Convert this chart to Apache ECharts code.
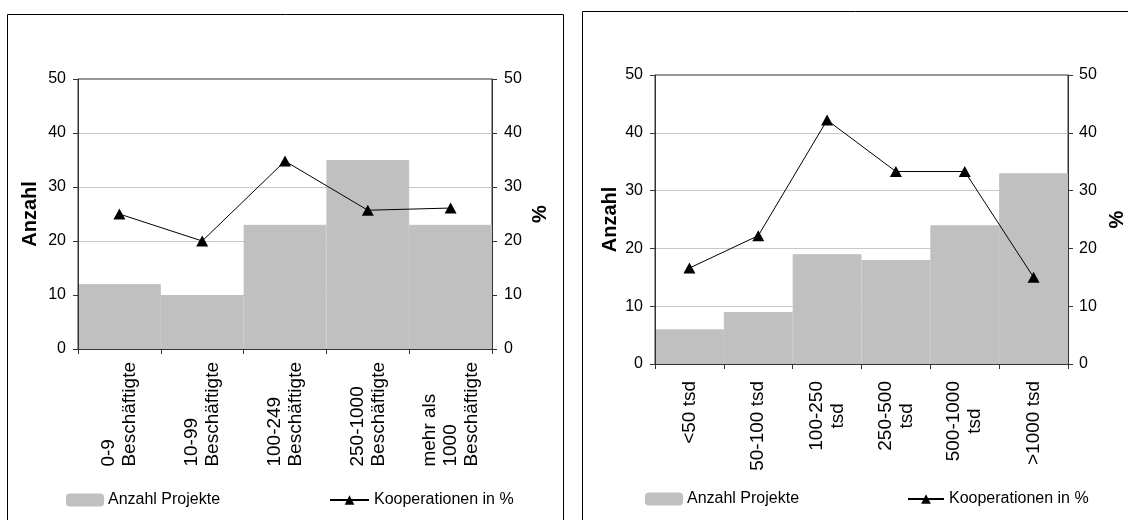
<!DOCTYPE html>
<html>
<head>
<meta charset="utf-8">
<script src="https://cdn.jsdelivr.net/npm/echarts@6.0.0/dist/echarts.min.js"></script>
<style>
html,body{margin:0;padding:0;background:#fff;}
#chart{width:1128px;height:520px;}
</style>
</head>
<body>
<div id="chart"></div>
<script>
// ---- data ----
const catsLeft = ['0-9\nBeschäftigte', '10-99\nBeschäftigte', '100-249\nBeschäftigte', '250-1000\nBeschäftigte', 'mehr als\n1000\nBeschäftigte'];
const barsLeft = [12, 10, 23, 35, 23];
const pctLeft = [25, 20, 34.8, 25.7, 26.1];

const catsRight = ['<50 tsd', '50-100 tsd', '100-250\ntsd', '250-500\ntsd', '500-1000\ntsd', '>1000 tsd'];
const barsRight = [6, 9, 19, 18, 24, 33];
const pctRight = [16.6, 22.2, 42.2, 33.3, 33.3, 15.0];

const yTicks = [0, 10, 20, 30, 40, 50];
const seriesNames = ['Anzahl Projekte', 'Kooperationen in %'];
const axisTitles = ['Anzahl', '%'];

// ---- style ----
const FONT = 'Liberation Sans, Arial, sans-serif';
const AXIS_COLOR = '#333';
const GRID_COLOR = '#c8c8c8';
const BAR_COLOR = '#c0c0c0';

const yMin = yTicks[0], yMax = yTicks[yTicks.length - 1], yInt = yTicks[1] - yTicks[0];

function valueAxis(gridIndex, position, name, nameGap, labelMargin) {
  return {
    type: 'value', gridIndex: gridIndex, position: position,
    min: yMin, max: yMax, interval: yInt, z: 3,
    name: name, nameLocation: 'middle', nameGap: nameGap,
    nameTextStyle: { fontFamily: FONT, fontWeight: 'bold', fontSize: 20, color: '#000' },
    axisLine: { show: true, lineStyle: { color: AXIS_COLOR, width: 1 } },
    axisTick: { show: true, length: 5, lineStyle: { color: AXIS_COLOR } },
    axisLabel: { fontFamily: FONT, fontSize: 16, color: '#000', margin: labelMargin },
    splitLine: { show: false }
  };
}
function splitAxis(gridIndex) {
  return {
    type: 'value', gridIndex: gridIndex, position: 'left',
    min: yMin, max: yMax, interval: yInt, z: 0,
    axisLine: { show: false }, axisTick: { show: false }, axisLabel: { show: false },
    splitLine: { show: true, showMinLine: false, showMaxLine: false, lineStyle: { color: GRID_COLOR, width: 1 } }
  };
}
function catAxis(gridIndex, cats, margin, lineAlign) {
  return {
    type: 'category', gridIndex: gridIndex, data: cats, z: 3,
    axisLine: { show: true, lineStyle: { color: AXIS_COLOR, width: 1 } },
    axisTick: { show: true, length: 5, alignWithLabel: false, lineStyle: { color: AXIS_COLOR } },
    axisLabel: {
      rotate: 90, interval: 0, margin: margin,
      formatter: function (v) { return v.split('\n').map(function (s) { return '{t|' + s + '}'; }).join('\n'); },
      rich: { t: { align: lineAlign, fontFamily: FONT, fontSize: 19, lineHeight: 21, color: '#000' } }
    }
  };
}
function barSeries(g, data, yIdx) {
  return {
    name: seriesNames[0], type: 'bar', xAxisIndex: g, yAxisIndex: yIdx,
    data: data, barCategoryGap: '0%', barGap: '0%', z: 2,
    itemStyle: { color: BAR_COLOR, borderColor: BAR_COLOR, borderWidth: 1 }
  };
}
function lineSeries(g, data, yIdx) {
  return {
    name: seriesNames[1], type: 'line', xAxisIndex: g, yAxisIndex: yIdx,
    data: data, z: 4, symbol: 'triangle', symbolSize: [12, 11],
    lineStyle: { color: '#000', width: 1 }, itemStyle: { color: '#000' }
  };
}
function legend(name, left, top, w, h) {
  return {
    data: [name], left: left, top: top, padding: 0, itemWidth: w, itemHeight: h,
    selectedMode: false,
    textStyle: { fontFamily: FONT, fontSize: 16, color: '#000' }
  };
}

const chart = echarts.init(document.getElementById('chart'), null, { renderer: 'canvas' });
chart.setOption({
  animation: false,
  backgroundColor: '#fff',
  graphic: [
    { type: 'rect', shape: { x: 7.5, y: 14.5, width: 556, height: 520 }, style: { fill: 'none', stroke: '#000', lineWidth: 1 }, silent: true },
    { type: 'rect', shape: { x: 582.5, y: 11.5, width: 600, height: 520 }, style: { fill: 'none', stroke: '#000', lineWidth: 1 }, silent: true }
  ],
  grid: [
    { left: 78, top: 79, width: 414, height: 270, show: true, borderColor: AXIS_COLOR, borderWidth: 1, backgroundColor: 'transparent' },
    { left: 655, top: 75, width: 414, height: 289, show: true, borderColor: AXIS_COLOR, borderWidth: 1, backgroundColor: 'transparent' }
  ],
  xAxis: [
    catAxis(0, catsLeft, 13, 'left'),
    catAxis(1, catsRight, 17, 'center')
  ],
  yAxis: [
    valueAxis(0, 'left', axisTitles[0], 38, 12),
    valueAxis(0, 'right', axisTitles[1], 38, 12),
    splitAxis(0),
    valueAxis(1, 'left', axisTitles[0], 35, 12),
    valueAxis(1, 'right', axisTitles[1], 39, 11),
    splitAxis(1)
  ],
  legend: [
    legend(seriesNames[0], 66, 492, 36, 11),
    legend(seriesNames[1], 329, 492, 39, 12),
    legend(seriesNames[0], 645, 491, 36, 11),
    legend(seriesNames[1], 907, 491, 36, 12)
  ],
  series: [
    barSeries(0, barsLeft, 0),
    lineSeries(0, pctLeft, 1),
    barSeries(1, barsRight, 3),
    lineSeries(1, pctRight, 4)
  ]
});
</script>
</body>
</html>
